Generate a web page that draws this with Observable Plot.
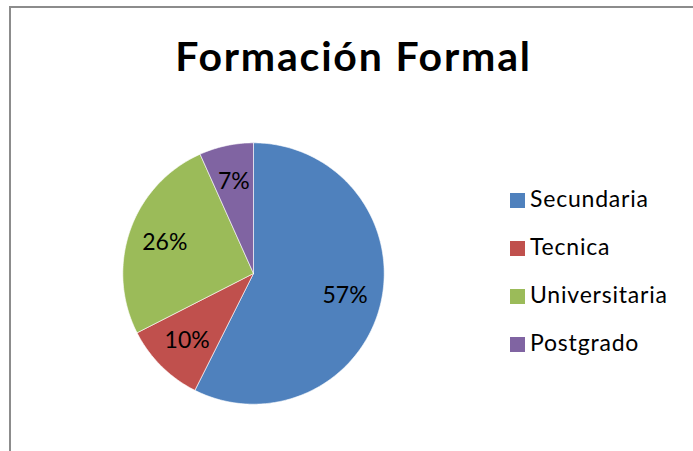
<!DOCTYPE html>
<html>
<head>
<meta charset="utf-8">
<script src="https://cdn.jsdelivr.net/npm/d3@7"></script>
<script src="https://cdn.jsdelivr.net/npm/@observablehq/plot@0.6"></script>
<style>
  html, body { margin: 0; padding: 0; background: white; }
  #chart { position: relative; width: 693px; height: 451px; overflow: hidden; background: white; font-family: Lato, "Open Sans", sans-serif; }
  #frame { position: absolute; left: 9px; top: 6px; width: 720px; height: 480px; border-left: 2px solid #8c8c8c; border-top: 2px solid #8c8c8c; }
  #title { position: absolute; left: 10px; width: 687px; top: 34.5px; text-align: center; font-size: 41px; line-height: 41px; letter-spacing: 1.8px; font-weight: bold; color: black; }
  #pie { position: absolute; left: 118px; top: 138px; }
  .leg { position: absolute; left: 510px; font-size: 23px; line-height: 23px; letter-spacing: 0.8px; color: black; white-space: nowrap; }
  .leg .sw { position: absolute; left: 0; top: 6px; width: 15px; height: 15px; }
  .leg .lb { position: absolute; left: 20px; top: 0; }
</style>
</head>
<body>
<div id="chart">
  <div id="frame"></div>
  <div id="title"></div>
  <div id="pie"></div>
  <div id="legend"></div>
</div>
<script>
const title = "Formación Formal";
const categories = ["Secundaria", "Tecnica", "Universitaria", "Postgrado"];
const values = [57.4, 10.1, 25.8, 6.7];
const colors = ["#4F81BD", "#C0504D", "#9BBB59", "#8064A2"];

document.getElementById("title").textContent = title;

const total = d3.sum(values);
const pts = [];
const labels = [];
let acc = 0;
categories.forEach((cat, i) => {
  const a0 = acc / total * 2 * Math.PI;
  acc += values[i];
  const a1 = acc / total * 2 * Math.PI;
  const n = Math.max(2, Math.ceil((a1 - a0) * 180 / Math.PI));
  pts.push({cat, x: 0, y: 0});
  for (let k = 0; k <= n; k++) {
    const a = a0 + (a1 - a0) * k / n;
    pts.push({cat, x: Math.sin(a), y: Math.cos(a)});
  }
  pts.push({cat, x: 0, y: 0});
  const am = (a0 + a1) / 2;
  labels.push({cat, x: 0.72 * Math.sin(am), y: 0.72 * Math.cos(am), text: Math.round(values[i] / total * 100) + "%"});
});

const plot = Plot.plot({
  width: 270,
  height: 270,
  margin: 0,
  style: {fontFamily: "Lato, 'Open Sans', sans-serif", background: "transparent"},
  x: {domain: [-1.033, 1.033], axis: null},
  y: {domain: [-1.033, 1.033], axis: null},
  color: {domain: categories, range: colors},
  marks: [
    Plot.line(pts, {x: "x", y: "y", z: "cat", fill: "cat", stroke: "white", strokeWidth: 0.6, curve: "linear"}),
    Plot.text(labels, {x: "x", y: "y", text: "text", fontSize: 23, fill: "black"})
  ]
});
document.getElementById("pie").appendChild(plot);

const legend = document.getElementById("legend");
categories.forEach((cat, i) => {
  const row = document.createElement("div");
  row.className = "leg";
  row.style.top = (187 + i * 48) + "px";
  const sw = document.createElement("div");
  sw.className = "sw";
  sw.style.background = colors[i];
  const lb = document.createElement("div");
  lb.className = "lb";
  lb.textContent = cat;
  row.appendChild(sw);
  row.appendChild(lb);
  legend.appendChild(row);
});
</script>
</body>
</html>
